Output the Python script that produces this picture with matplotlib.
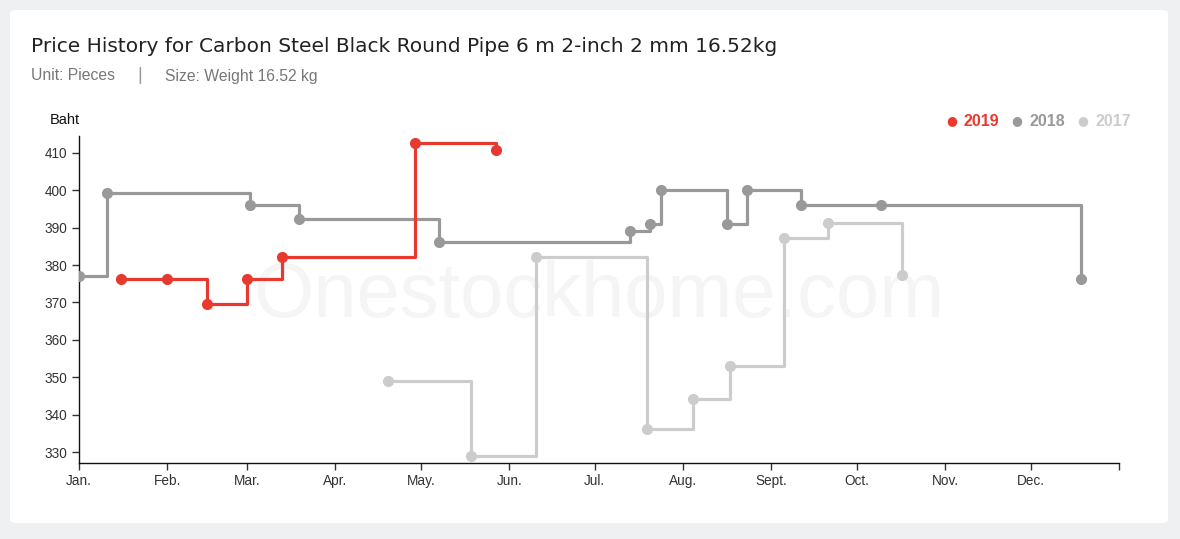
import numpy as np
import matplotlib.pyplot as plt
from matplotlib.patches import FancyBboxPatch

# day of year (0 = Jan 1) and price in Baht
days_2019 = [14.7, 30.9, 44.9, 59, 71.3, 118, 146.4]
price_2019 = [376.3, 376.3, 369.6, 376.3, 382.2, 412.7, 410.8]

days_2018 = [0, 9.8, 60, 77.2, 126.4, 193.4, 200.4, 204.3, 227.4, 234.5, 253.4, 281.5, 351.7]
price_2018 = [377.1, 399.3, 396.1, 392.4, 386.2, 389.1, 391, 400.1, 391, 400.1, 396.1, 396.1, 376.3]

days_2017 = [108.5, 137.6, 160.5, 199.5, 215.6, 228.5, 247.6, 262.7, 288.8]
price_2017 = [349, 329, 382.1, 336.2, 344.2, 353.1, 387.1, 391.2, 377.2]

month_days = [0, 31, 59, 90, 120, 151, 181, 212, 243, 273, 304, 334, 365]
month_labels = ['Jan.', 'Feb.', 'Mar.', 'Apr.', 'May.', 'Jun.', 'Jul.', 'Aug.',
                'Sept.', 'Oct.', 'Nov.', 'Dec.', '']
y_ticks = [330, 340, 350, 360, 370, 380, 390, 400, 410]

c19 = '#e8392f'
c18 = '#999999'
c17 = '#cccccc'

fig = plt.figure(figsize=(11.8, 5.39), dpi=100)
fig.patch.set_facecolor('#eff0f2')

# white card
card = FancyBboxPatch((10/1180, 16/539), 1158/1180, 513/539,
                      boxstyle='round,pad=0,rounding_size=0.006',
                      transform=fig.transFigure, facecolor='white',
                      edgecolor='none', zorder=-5)
fig.patches.append(card)

fig.text(31/1180, 1-47/539, 'Price History for Carbon Steel Black Round Pipe 6 m 2-inch 2 mm 16.52kg',
         fontsize=14.5, color='#222222', va='center', ha='left', family='DejaVu Sans')
fig.text(31/1180, 1-76/539, 'Unit: Pieces', fontsize=11.3, color='#777777',
         va='center', family='Liberation Sans')
fig.text(140/1180, 1-76/539, '|', fontsize=13, color='#999999',
         va='center', ha='center', family='Liberation Sans')
fig.text(165/1180, 1-76/539, 'Size: Weight 16.52 kg', fontsize=11.3, color='#777777',
         va='center', family='Liberation Sans')

ax = fig.add_axes([79/1180, 1-463/539, 1040/1180, 327/539])
ax.set_facecolor('none')

ax.text(0.5, 0.51, 'Onestockhome.com', transform=ax.transAxes, fontsize=56,
        color='#f5f5f5', ha='center', va='center', family='Liberation Sans', zorder=0)

for d, p, c, z in [(days_2017, price_2017, c17, 2),
                   (days_2018, price_2018, c18, 3),
                   (days_2019, price_2019, c19, 4)]:
    ax.plot(d, p, drawstyle='steps-post', color=c, lw=2.3, zorder=z)
    ax.plot(d, p, 'o', color=c, ms=7, zorder=z)

ax.set_xlim(0, 365)
ax.set_ylim(327.06, 414.5)
ax.set_xticks(month_days)
ax.set_xticklabels(month_labels)
ax.set_yticks(y_ticks)
for lab in ax.get_xticklabels() + ax.get_yticklabels():
    lab.set_family('Liberation Sans')
ax.tick_params(axis='both', labelsize=9.8, labelcolor='#333333', color='#333333',
               length=5, width=1)
ax.tick_params(axis='x', pad=3)
for s in ['top', 'right']:
    ax.spines[s].set_visible(False)
for s in ['left', 'bottom']:
    ax.spines[s].set_color('#111111')
    ax.spines[s].set_linewidth(1)

fig.text(50/1180, 1-120/539, 'Baht', fontsize=10.5, color='#111111',
         va='center', family='Liberation Sans')

# legend
for x, lab, c in [(952, '2019', c19), (1017, '2018', c18), (1083, '2017', c17)]:
    fig.text(x/1180, 1-121/539, '\u25cf', fontsize=9, color=c, va='center', ha='center',
             family='DejaVu Sans')
    fig.text((x+12)/1180, 1-121/539, lab, fontsize=11.5, color=c, va='center',
             fontweight='bold', family='Liberation Sans')

fig.savefig('out.png', dpi=100, facecolor=fig.get_facecolor())
